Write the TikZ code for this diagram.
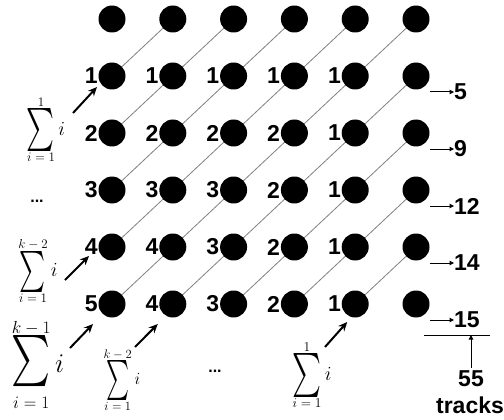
\RequirePackage{fix-cm}
\documentclass[tikz,border=0pt]{standalone}
\usepackage{graphicx}
\usepackage{fontspec}
\newfontfamily\arialf{Liberation Sans}
\usetikzlibrary{arrows.meta, calc, backgrounds}

% tall, narrow summation sign: #1 width, #2 height, #3 lower, #4 upper, #5 size of the limits
\newcommand{\tallsum}[5]{\mathop{\vcenter{\hbox{\resizebox*{#1}{#2}{$\sum$}}}}\limits_{\hbox{\fontsize{#5}{#5}\selectfont$#3$}}^{\hbox{\fontsize{#5}{#5}\selectfont$#4$}}}

\begin{document}
\begin{tikzpicture}[x=1pt, y=-1pt,
    dot/.style={circle, fill=black, minimum size=27pt, inner sep=0pt},
    track/.style={gray, line width=0.8pt},
    num/.style={font=\arialf\bfseries\fontsize{23}{23}\selectfont, inner sep=0pt},
    sumarrow/.style={line width=2pt, -{Stealth[length=9pt, width=8pt]}},
    outarrow/.style={line width=1pt, -{Triangle[length=4.5pt, width=4.5pt]}}]
    % Grid: column step \dx, row step \dy (in px of the 504x420 picture)
    \def\dx{60.8}
    \def\dy{57}
    \useasboundingbox (0,0) rectangle (504,420);

    % Pixel grid (6 x 6)
    \foreach \r in {0,...,5}
        \foreach \c in {0,...,5}
            \node[dot] (c\r\c) at ({112+\dx*\c},{19+\dy*\r}) {};

    % Diagonal tracks, drawn under the pixels
    \begin{scope}[on background layer]
        \foreach \r in {1,...,5}
            \foreach \c in {0,...,4} {
                \pgfmathtruncatemacro\nr{\r-1}
                \pgfmathtruncatemacro\nc{\c+1}
                \draw[track] (c\r\c.center) -- (c\nr\nc.center);
            }
    \end{scope}

    % Counts next to each pixel
    \foreach \r in {1,...,5}
        \foreach \c in {0,...,4} {
            \pgfmathtruncatemacro\v{min(\r,5-\c)}
            \node[num, anchor=east] (n\r\c) at ([xshift=-0.5pt]c\r\c.west) {\v};
        }

    % Running totals on the right
    \foreach \r/\t in {1/5, 2/9, 3/12, 4/14, 5/15} {
        \node[num, anchor=west] (t\r) at ([shift={(38,16)}]c\r5.center) {\t};
        \coordinate (s\r) at ([shift={(14,16)}]c\r5.center);
        \draw[outarrow] (s\r) -- (t\r.west);
    }

    % Sum bar and total
    \coordinate (barL) at (424,335);
    \coordinate (barR) at (490,335);
    \draw[line width=1pt] (barL) -- (barR);
    \node[num] (n55) at (471,379) {55};
    \node[num] (trk) at (470,405) {tracks};
    \draw[outarrow, shorten <=3pt] (n55.north) -- (n55.north |- barL);

    % Sums on the left and below
    \node[inner sep=0pt, font=\fontsize{20}{22}\selectfont] (sA) at (46,130) {$\tallsum{28pt}{43pt}{i=1}{1}{13} i$};
    \node[inner sep=0pt, font=\fontsize{20}{22}\selectfont] (sB) at (38,271) {$\tallsum{26pt}{41pt}{i=1}{k-2}{13} i$};
    \node[inner sep=0pt, font=\fontsize{27}{29}\selectfont] (sC) at (38,365) {$\tallsum{39pt}{60pt}{i=1}{k-1}{17.5} i$};
    \node[inner sep=0pt, font=\fontsize{17}{19}\selectfont] (sD) at (122,380) {$\tallsum{23pt}{40pt}{i=1}{k-2}{12.5} i$};
    \node[inner sep=0pt, font=\fontsize{20}{22}\selectfont] (sE) at (312,375) {$\tallsum{29pt}{44pt}{i=1}{1}{13.5} i$};
    \node[font=\arialf\bfseries\fontsize{16}{16}\selectfont] (dL) at (37,201) {...};
    \node[font=\arialf\bfseries\fontsize{16}{16}\selectfont] (dB) at (215,371) {...};

    % Arrows from the sums to the pixels
    \coordinate (tA) at (73,113);
    \coordinate (tB) at (65,280);
    \coordinate (tC) at (70,348);
    \coordinate (tD) at (135,347);
    \coordinate (tE) at (325,347);
    \draw[sumarrow] (tA) -- ([shift={(-15,11)}]c10.center);
    \draw[sumarrow] (tB) -- ([shift={(-23,9)}]c40.center);
    \draw[sumarrow] (tC) -- ([shift={(-19,20)}]c50.center);
    \draw[sumarrow] (tD) -- ([shift={(-15,20)}]c51.center);
    \draw[sumarrow] (tE) -- ([shift={(-8,18)}]c54.center);
\end{tikzpicture}
\end{document}
